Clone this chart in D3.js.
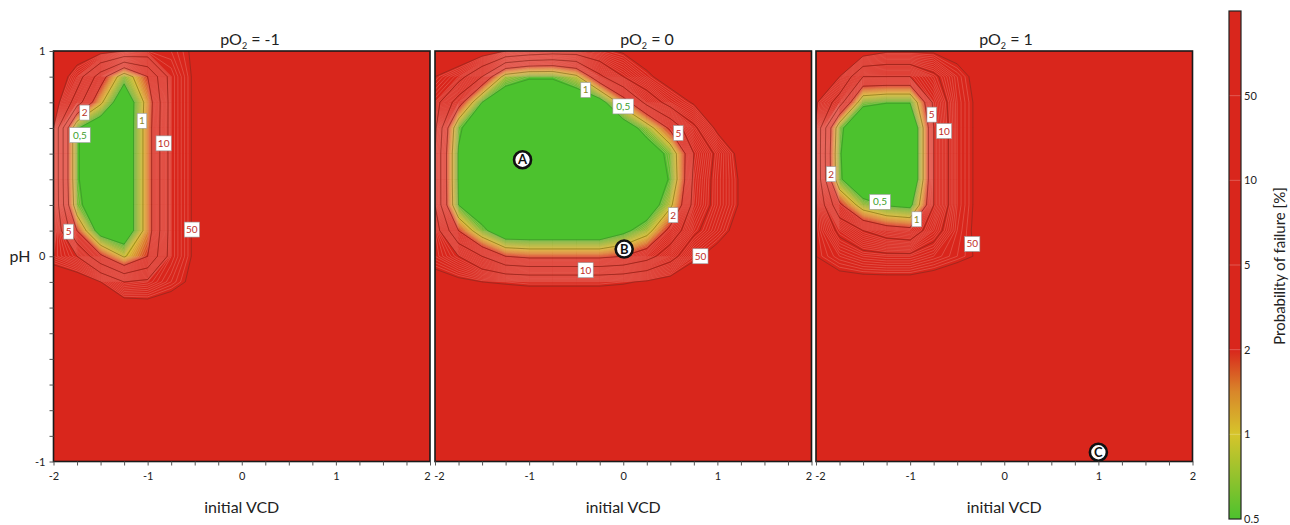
<!DOCTYPE html>
<html><head><meta charset="utf-8">
<script src="https://cdn.jsdelivr.net/npm/d3@7"></script>
<style>
body{margin:0;background:#fff}
text{font-family:Lato,"Open Sans",sans-serif;fill:#222}
</style>
</head><body>
<svg id="c" width="1290" height="525"></svg>
<script>
// ---------------- data ----------------
const gridX = [-2,-1.75,-1.5,-1.25,-1,-0.75,-0.5,-0.25,0,0.25,0.5,0.75,1,1.25,1.5,1.75,2];
const gridY = [1,0.875,0.75,0.625,0.5,0.375,0.25,0.125,0,-0.125,-0.25,-0.375,-0.5,-0.625,-0.75,-0.875,-1];
const colorTicks = [0.5,1,2,5,10,50,100];
const colorTickLabels = ["0.5","1","2","5","10","50",""];
const pO2Levels = ["-1","0","1"];
const xTickLabels = [-2,-1,0,1,2];
const yTickLabels = [-1,0,1];

// probability of failure [%] on the grid (rows = pH from 1 to -1, cols = VCD from -2 to 2)
const failPO2m1 = [
[100,75.8,61.6,50,26.3,30.9,53.6,100,100,100,100,100,100,100,100,100,100],
[87.1,22.4,3.16,0.66,2.0,19.0,53.6,100,100,100,100,100,100,100,100,100,100],
[70.7,7.07,1.15,0.25,1.32,19.0,53.6,100,100,100,100,100,100,100,100,100,100],
[50,0.54,0.25,0.25,1.41,19.0,53.6,100,100,100,100,100,100,100,100,100,100],
[50,0.54,0.25,0.25,1.41,19.0,53.6,100,100,100,100,100,100,100,100,100,100],
[50,0.54,0.25,0.25,1.41,19.0,53.6,100,100,100,100,100,100,100,100,100,100],
[50,0.62,0.25,0.25,1.41,19.0,53.6,100,100,100,100,100,100,100,100,100,100],
[50,2.0,0.33,0.25,1.41,19.0,53.6,100,100,100,100,100,100,100,100,100,100],
[26.3,10,2.4,0.93,2.0,19.0,53.6,100,100,100,100,100,100,100,100,100,100],
[87.1,75.8,50,10,13.8,30.9,57.4,100,100,100,100,100,100,100,100,100,100],
[100,100,100,75.8,66.0,70.7,87.1,100,100,100,100,100,100,100,100,100,100],
[100,100,100,100,100,100,100,100,100,100,100,100,100,100,100,100,100],
[100,100,100,100,100,100,100,100,100,100,100,100,100,100,100,100,100],
[100,100,100,100,100,100,100,100,100,100,100,100,100,100,100,100,100],
[100,100,100,100,100,100,100,100,100,100,100,100,100,100,100,100,100],
[100,100,100,100,100,100,100,100,100,100,100,100,100,100,100,100,100],
[100,100,100,100,100,100,100,100,100,100,100,100,100,100,100,100,100]
];
const failPO2z = [
[100,93.3,70.7,50,30.9,22.4,22.4,36.2,53.6,75.8,100,100,100,100,100,100,100],
[50,19.0,5.0,0.76,0.54,0.54,0.87,4.16,10,36.2,70.7,100,100,100,100,100,100],
[19.0,3.16,0.5,0.25,0.25,0.25,0.25,0.35,1.41,6.16,19.0,53.6,100,100,100,100,100],
[13.8,0.57,0.25,0.25,0.25,0.25,0.25,0.25,0.29,0.71,2.4,8.71,57.4,100,100,100,100],
[10,0.47,0.25,0.25,0.25,0.25,0.25,0.25,0.25,0.29,0.62,5.0,13.8,61.6,100,100,100],
[10,0.47,0.25,0.25,0.25,0.25,0.25,0.25,0.25,0.25,0.54,5.74,16.2,53.6,100,100,100],
[10,0.5,0.25,0.25,0.25,0.25,0.25,0.25,0.25,0.27,0.87,6.16,16.2,53.6,100,100,100],
[22.4,2.0,0.62,0.25,0.25,0.25,0.25,0.25,0.41,0.76,2.63,8.71,26.3,66.0,100,100,100],
[26.3,10,5.0,2.0,1.74,1.74,1.74,1.74,2.0,3.47,7.58,36.2,66.0,100,100,100,100],
[66.0,57.4,50,42.6,36.2,36.2,36.2,36.2,42.6,53.6,66.0,87.1,100,100,100,100,100],
[100,100,100,100,100,100,100,100,100,100,100,100,100,100,100,100,100],
[100,100,100,100,100,100,100,100,100,100,100,100,100,100,100,100,100],
[100,100,100,100,100,100,100,100,100,100,100,100,100,100,100,100,100],
[100,100,100,100,100,100,100,100,100,100,100,100,100,100,100,100,100],
[100,100,100,100,100,100,100,100,100,100,100,100,100,100,100,100,100],
[100,100,100,100,100,100,100,100,100,100,100,100,100,100,100,100,100],
[100,100,100,100,100,100,100,100,100,100,100,100,100,100,100,100,100]
];
const failPO2p1 = [
[100,100,70.7,53.6,53.6,53.6,61.6,100,100,100,100,100,100,100,100,100,100],
[87.1,50,5.0,5.0,5.0,8.71,30.9,61.6,100,100,100,100,100,100,100,100,100],
[53.6,7.07,0.62,0.52,0.52,5.74,26.3,57.4,100,100,100,100,100,100,100,100,100],
[42.6,0.62,0.18,0.18,0.18,5.0,26.3,57.4,100,100,100,100,100,100,100,100,100],
[42.6,0.54,0.18,0.18,0.18,5.0,26.3,57.4,100,100,100,100,100,100,100,100,100],
[42.6,0.57,0.18,0.18,0.18,5.0,26.3,57.4,100,100,100,100,100,100,100,100,100],
[50,2.4,0.71,0.47,0.41,5.0,26.3,57.4,100,100,100,100,100,100,100,100,100],
[50,8.71,5.0,3.16,2.63,7.58,30.9,57.4,100,100,100,100,100,100,100,100,100],
[50,26.3,16.2,13.8,13.8,22.4,36.2,53.6,100,100,100,100,100,100,100,100,100],
[70.7,61.6,61.6,61.6,61.6,66.0,75.8,87.1,100,100,100,100,100,100,100,100,100],
[100,100,100,100,100,100,100,100,100,100,100,100,100,100,100,100,100],
[100,100,100,100,100,100,100,100,100,100,100,100,100,100,100,100,100],
[100,100,100,100,100,100,100,100,100,100,100,100,100,100,100,100,100],
[100,100,100,100,100,100,100,100,100,100,100,100,100,100,100,100,100],
[100,100,100,100,100,100,100,100,100,100,100,100,100,100,100,100,100],
[100,100,100,100,100,100,100,100,100,100,100,100,100,100,100,100,100],
[100,100,100,100,100,100,100,100,100,100,100,100,100,100,100,100,100]
];

// contour labels (annotation positions in data coordinates)
const contourLabels = [
 [{t:"2",x:-1.67,y:0.70},{t:"0,5",x:-1.72,y:0.59},{t:"1",x:-1.06,y:0.66},{t:"10",x:-0.83,y:0.55},{t:"5",x:-1.84,y:0.12},{t:"50",x:-0.53,y:0.13}],
 [{t:"1",x:-0.40,y:0.81},{t:"0,5",x:0.0,y:0.73},{t:"5",x:0.585,y:0.60},{t:"2",x:0.53,y:0.20},{t:"50",x:0.82,y:0.0},{t:"10",x:-0.40,y:-0.068}],
 [{t:"5",x:-0.77,y:0.69},{t:"10",x:-0.64,y:0.61},{t:"2",x:-1.84,y:0.40},{t:"0,5",x:-1.32,y:0.265},{t:"1",x:-0.93,y:0.18},{t:"50",x:-0.34,y:0.06}]
];
const markers = [
 {panel:1,t:"A",x:-1.07,y:0.47},
 {panel:1,t:"B",x:0.01,y:0.035},
 {panel:2,t:"C",x:1.0,y:-0.955}
];

// ---------------- layout ----------------
const panels = [failPO2m1, failPO2z, failPO2p1];
const panelLeft = [53.5, 435, 816], panelW = 376.5, panelTop = 51, panelH = 410.5;
const titleX = [250, 647, 1006];

const svg = d3.select("#c");
const defs = svg.append("defs");

// index scale of the colour bar (0.5 ->0, 1 ->1, 2 ->2, 5 ->3, 10 ->4, 50 ->5, 100 ->6)
const uScale = d3.scaleLinear().domain(colorTicks.map(Math.log10)).range(d3.range(colorTicks.length));
const color = d3.scaleLinear().domain([0,0.5,1,1.5,2])
  .range(["#4cc22e","#93c22d","#d6c52b","#d9872a","#d9261c"]).clamp(true);

const fillThresholds = d3.range(0.05, 2.0001, 0.05);
const fineThresholds = d3.range(1, 50).map(k => k/10).filter(u => Math.abs(u - Math.round(u)) > 1e-6);
const majorThresholds = [0,1,2,3,4,5];
const labelColor = {"0,5":"#3d9e2c","1":"#8c8a2a","2":"#b8352c","5":"#c0302a","10":"#c0302a","50":"#c0302a"};

panels.forEach((grid, i) => {
  const left = panelLeft[i];
  const x = d3.scaleLinear().domain([-2,2]).range([left, left + panelW]);
  const y = d3.scaleLinear().domain([-1,1]).range([panelTop + panelH, panelTop]);
  const nx = gridX.length, ny = gridY.length;
  const gx = d3.scaleLinear().domain([0.5, nx - 0.5]).range([gridX[0], gridX[nx-1]]);
  const gy = d3.scaleLinear().domain([0.5, ny - 0.5]).range([gridY[0], gridY[ny-1]]);
  const values = grid.flat().map(p => uScale(Math.log10(p)));
  const proj = d3.geoTransform({point(px, py){ this.stream.point(x(gx(px)), y(gy(py))); }});
  const path = d3.geoPath(proj);
  const contours = d3.contours().size([nx, ny]).smooth(true);

  defs.append("clipPath").attr("id", "clip" + i).append("rect")
    .attr("x", left).attr("y", panelTop).attr("width", panelW).attr("height", panelH);
  const g = svg.append("g").attr("clip-path", `url(#clip${i})`);
  g.append("rect").attr("x", left).attr("y", panelTop).attr("width", panelW).attr("height", panelH)
    .attr("fill", color(0));
  fillThresholds.forEach(t => {
    g.append("path").attr("d", path(contours.contour(values, t)))
      .attr("fill", color(t)).attr("fill-rule", "evenodd").attr("stroke", color(t)).attr("stroke-width", 0.3);
  });
  fineThresholds.forEach(t => {
    g.append("path").attr("d", path(contours.contour(values, t)))
      .attr("fill", "none").attr("stroke", "#f6b2a6").attr("stroke-opacity", 0.5).attr("stroke-width", 0.55);
  });
  majorThresholds.forEach(t => {
    g.append("path").attr("d", path(contours.contour(values, t)))
      .attr("fill", "none").attr("stroke", t === 0 ? "#2f6a22" : "#4a2a22").attr("stroke-opacity", 0.5).attr("stroke-width", 0.75);
  });

  // contour labels
  contourLabels[i].forEach(l => {
    const w = l.t.length * 5.6 + 4, h = 15;
    const lg = svg.append("g").attr("transform", `translate(${x(l.x)},${y(l.y)})`);
    lg.append("rect").attr("x", -w/2).attr("y", -h/2).attr("width", w).attr("height", h)
      .attr("fill", "#fff").attr("stroke", "#9a9a9a").attr("stroke-width", 0.6);
    lg.append("text").attr("text-anchor", "middle").attr("dy", "0.35em")
      .style("font-size", "10px").style("fill", labelColor[l.t]).text(l.t);
  });

  // markers
  markers.filter(m => m.panel === i).forEach(m => {
    const mg = svg.append("g").attr("transform", `translate(${x(m.x)},${y(m.y)})`);
    mg.append("circle").attr("r", 8.5).attr("fill", "#fff").attr("stroke", "#111").attr("stroke-width", 2.6);
    mg.append("text").attr("text-anchor", "middle").attr("dy", "0.36em")
      .style("font-size", "13px").style("font-weight", "bold").style("fill", "#111").text(m.t);
  });

  // frame
  svg.append("rect").attr("x", left).attr("y", panelTop).attr("width", panelW).attr("height", panelH)
    .attr("fill", "none").attr("stroke", "#1a1a1a").attr("stroke-width", 1.6);

  // x axis
  const xa = svg.append("g").attr("transform", `translate(0,${panelTop + panelH})`)
    .call(d3.axisBottom(x).tickValues(d3.range(-2, 2.0001, 0.25)).tickSize(4).tickPadding(7)
      .tickFormat(d => xTickLabels.includes(d) ? String(d) : ""));
  xa.select(".domain").remove();
  xa.selectAll("line").attr("stroke", "#555");
  xa.selectAll("text").style("font-size", "11px").style("font-family", "Lato,'Open Sans',sans-serif").attr("fill", "#222")
    .attr("dx", d => (d === 2 && i < 2) ? -3 : (d === -2 && i > 0) ? 4 : 0);

  svg.append("text").attr("x", left + panelW/2).attr("y", 513).attr("text-anchor", "middle")
    .style("font-size", "16px").text("initial VCD");

  // title
  const tt = svg.append("text").attr("x", titleX[i]).attr("y", 45).attr("text-anchor", "middle").style("font-size", "16px");
  tt.append("tspan").text("pO");
  tt.append("tspan").style("font-size", "9px").attr("dy", 4).text("2");
  tt.append("tspan").attr("dy", -4).text(" = " + pO2Levels[i]);

  if (i === 0) {
    const ya = svg.append("g").attr("transform", `translate(${left},0)`)
      .call(d3.axisLeft(y).tickValues(d3.range(-1, 1.0001, 0.125)).tickSize(4).tickPadding(4)
        .tickFormat(d => yTickLabels.includes(d) ? String(d) : ""));
    ya.select(".domain").remove();
    ya.selectAll("line").attr("stroke", "#555");
    ya.selectAll("text").style("font-size", "11px").style("font-family", "Lato,'Open Sans',sans-serif").attr("fill", "#222");
    svg.append("text").attr("x", 20).attr("y", 262).attr("text-anchor", "middle").style("font-size", "16px").text("pH");
  }
});

// ---------------- colour bar ----------------
const cbX = 1229, cbW = 12, cbTop = 11, cbBottom = 519;
const cbY = d3.scaleLinear().domain([0, colorTicks.length - 1]).range([cbBottom, cbTop]);
const grad = defs.append("linearGradient").attr("id", "cbgrad").attr("x1", 0).attr("y1", 1).attr("x2", 0).attr("y2", 0);
d3.range(0, 6.0001, 0.1).forEach(u => {
  grad.append("stop").attr("offset", u / 6).attr("stop-color", color(u));
});
svg.append("rect").attr("x", cbX).attr("y", cbTop).attr("width", cbW).attr("height", cbBottom - cbTop)
  .attr("fill", "url(#cbgrad)").attr("stroke", "#222").attr("stroke-width", 1.2);
colorTicks.forEach((v, k) => {
  if (k > 0 && k < colorTicks.length - 1) {
    svg.append("line").attr("x1", cbX + 0.6).attr("x2", cbX + cbW - 0.6).attr("y1", cbY(k)).attr("y2", cbY(k))
      .attr("stroke", "#fff").attr("stroke-opacity", 0.3).attr("stroke-width", 0.8);
  }
  if (colorTickLabels[k]) {
    svg.append("text").attr("x", cbX + cbW + 3).attr("y", cbY(k)).attr("dy", "0.35em")
      .style("font-size", "11px").text(colorTickLabels[k]);
  }
});
svg.append("text").attr("transform", "translate(1280,266) rotate(-90)").attr("text-anchor", "middle")
  .attr("dy", "0.35em").style("font-size", "15px").text("Probability of failure [%]");
</script>
</body></html>
